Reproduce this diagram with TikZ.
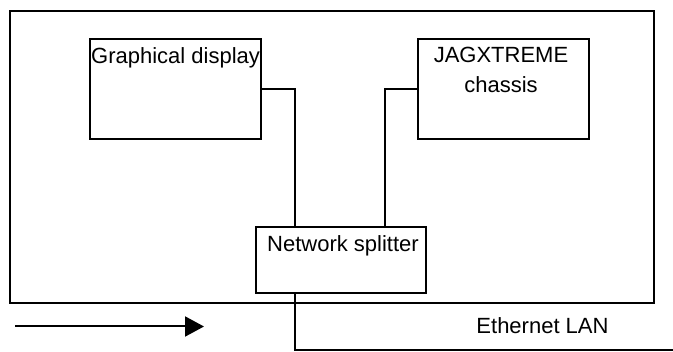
\documentclass[tikz,border=0pt]{standalone}
\usepackage{fontspec}
\setmainfont{Liberation Sans}
\usetikzlibrary{arrows.meta,calc,positioning}

\begin{document}
\begin{tikzpicture}[
            x=1pt, y=-1pt,
            box/.style={rectangle, draw, line width=2pt, inner sep=0pt, anchor=north west},
            txt/.style={inner sep=0pt, align=center, font=\fontsize{22}{30}\selectfont},
            wire/.style={line width=2pt},
            flow/.style={line width=2pt, -{Triangle[length=19pt, width=20pt]}}
        ]
            \useasboundingbox (0,0) rectangle (673,352);
            \node[box, minimum width=644pt, minimum height=292pt] (unit) at (9,10) {};
            \node[box, minimum width=171pt, minimum height=100pt] (disp) at (88.5,38.5) {};
            \node[box, minimum width=171pt, minimum height=100pt] (jag) at (416.5,38.5) {};
            \node[box, minimum width=170pt, minimum height=66pt] (split) at (255,226.5) {};

            \node[txt, anchor=base west] (dispText) at (91,64) {Graphical display};
            \node[txt, anchor=base] (jagText) at (501,93) {JAGXTREME\\chassis};
            \node[txt, anchor=base] (splitText) at (343,252) {Network splitter};
            \node[txt, anchor=base] (lanText) at (542.5,334) {Ethernet LAN};

            \coordinate (lanEnd) at (673,350);
            \coordinate (flowStart) at (15,326.5);
            \coordinate (flowEnd) at (204,326.5);

            \draw[wire] (disp.east) -| ([xshift=39.5pt]split.north west);
            \draw[wire] (jag.west) -| ([xshift=-42.5pt]split.north east);
            \draw[wire] ([xshift=40pt]split.south west) |- (lanEnd);
            \draw[flow] (flowStart) -- (flowEnd);
        \end{tikzpicture}
\end{document}
